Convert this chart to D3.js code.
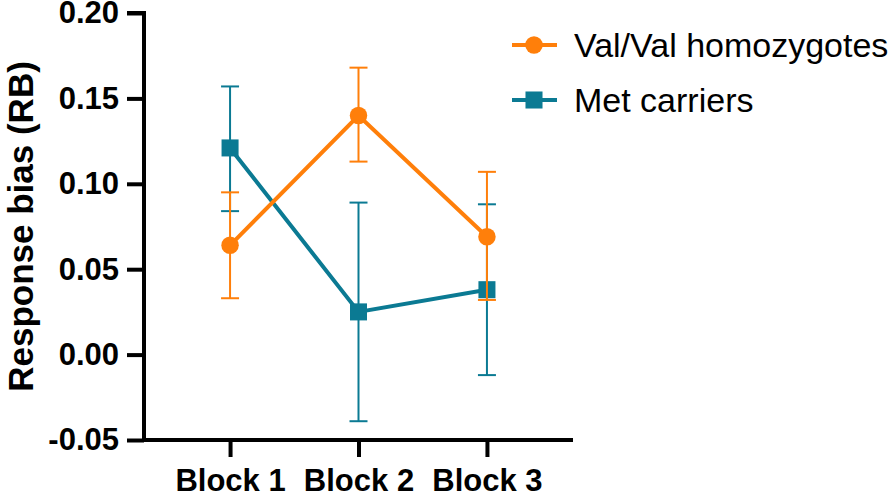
<!DOCTYPE html>
<html>
<head>
<meta charset="utf-8">
<script src="https://cdn.jsdelivr.net/npm/d3@7"></script>
<style>
  body { margin: 0; background: #fff; }
  svg { display: block; font-family: "Liberation Sans", Arial, sans-serif; }
</style>
</head>
<body>
<div id="chart"></div>
<script>
// data
const blocks = ['Block 1', 'Block 2', 'Block 3'];
const valMean = [0.064, 0.140, 0.069];
const valUpper = [0.095, 0.168, 0.107];
const valLower = [0.033, 0.113, 0.032];
const metMean = [0.121, 0.025, 0.038];
const metUpper = [0.157, 0.089, 0.088];
const metLower = [0.084, -0.039, -0.012];
const yTicks = [-0.05, 0, 0.05, 0.10, 0.15, 0.20];
const seriesNames = ['Val/Val homozygotes', 'Met carriers'];

const width = 896, height = 496;
const orange = '#ff7f0a', teal = '#0b7a93';

const svg = d3.select('#chart').append('svg')
    .attr('width', width).attr('height', height);

const x = d3.scalePoint().domain(blocks).range([144, 573]).padding(0.67);
const y = d3.scaleLinear().domain([-0.05, 0.20]).range([440, 13]);

const fmt = d => d3.format('.2f')(d).replace('\u2212', '-');

// axes
const yAxis = svg.append('g')
    .attr('transform', 'translate(144,0)')
    .call(d3.axisLeft(y).tickValues(yTicks).tickFormat(fmt).tickSize(17).tickPadding(8));
const xAxis = svg.append('g')
    .attr('transform', 'translate(0,440)')
    .call(d3.axisBottom(x).tickSize(17).tickPadding(8));

[yAxis, xAxis].forEach(g => {
    g.select('.domain').attr('stroke', '#000').attr('stroke-width', 4);
    g.selectAll('.tick line').attr('stroke', '#000').attr('stroke-width', 4);
    g.selectAll('.tick text')
        .attr('fill', '#000')
        .style('font-size', '31px')
        .style('font-weight', 'bold')
        .style('font-family', '"Liberation Sans", Arial, sans-serif');
});
// keep the axis ends square like the original
yAxis.select('.domain').attr('d', `M-17,${y(0.20)}H0V${y(-0.05) + 2}`);
xAxis.select('.domain').attr('d', `M144,0H573`);
xAxis.selectAll('.tick text').attr('y', 51).attr('dy', null);

svg.append('text')
    .attr('transform', `translate(33,${(y(0.20) + y(-0.05)) / 2}) rotate(-90)`)
    .attr('text-anchor', 'middle')
    .style('font-size', '35px')
    .style('font-weight', 'bold')
    .text('Response bias (RB)');

function drawSeries(mean, upper, lower, color, shape) {
    const g = svg.append('g');
    const pts = blocks.map((b, i) => ({ b, m: mean[i], hi: upper[i], lo: lower[i] }));

    const err = g.selectAll('g.err').data(pts).join('g').classed('err', true)
        .attr('stroke', color).attr('stroke-width', 2);
    err.append('line')
        .attr('x1', d => x(d.b)).attr('x2', d => x(d.b))
        .attr('y1', d => y(d.hi)).attr('y2', d => y(d.lo));
    err.append('line')
        .attr('x1', d => x(d.b) - 9).attr('x2', d => x(d.b) + 9)
        .attr('y1', d => y(d.hi)).attr('y2', d => y(d.hi));
    err.append('line')
        .attr('x1', d => x(d.b) - 9).attr('x2', d => x(d.b) + 9)
        .attr('y1', d => y(d.lo)).attr('y2', d => y(d.lo));

    g.append('path')
        .datum(pts)
        .attr('fill', 'none').attr('stroke', color).attr('stroke-width', 4)
        .attr('d', d3.line().x(d => x(d.b)).y(d => y(d.m)));

    g.selectAll('path.mark').data(pts).join('path').classed('mark', true)
        .attr('transform', d => `translate(${x(d.b)},${y(d.m)})`)
        .attr('fill', color)
        .attr('d', shape);
}

const circleSym = d3.symbol(d3.symbolCircle, 240)();
const squareSym = d3.symbol(d3.symbolSquare, 290)();

drawSeries(metMean, metUpper, metLower, teal, squareSym);
drawSeries(valMean, valUpper, valLower, orange, circleSym);

// legend
const legend = svg.append('g');
const items = [
    { name: seriesNames[0], color: orange, shape: circleSym, yy: 45 },
    { name: seriesNames[1], color: teal, shape: squareSym, yy: 100 }
];
const li = legend.selectAll('g').data(items).join('g')
    .attr('transform', d => `translate(0,${d.yy})`);
li.append('line')
    .attr('x1', 512).attr('x2', 557)
    .attr('stroke', d => d.color).attr('stroke-width', 4);
li.append('path')
    .attr('transform', 'translate(534,0)')
    .attr('fill', d => d.color)
    .attr('d', d => d.shape);
li.append('text')
    .attr('x', 574).attr('dy', '0.36em')
    .style('font-size', '34px')
    .text(d => d.name);
</script>
</body>
</html>
